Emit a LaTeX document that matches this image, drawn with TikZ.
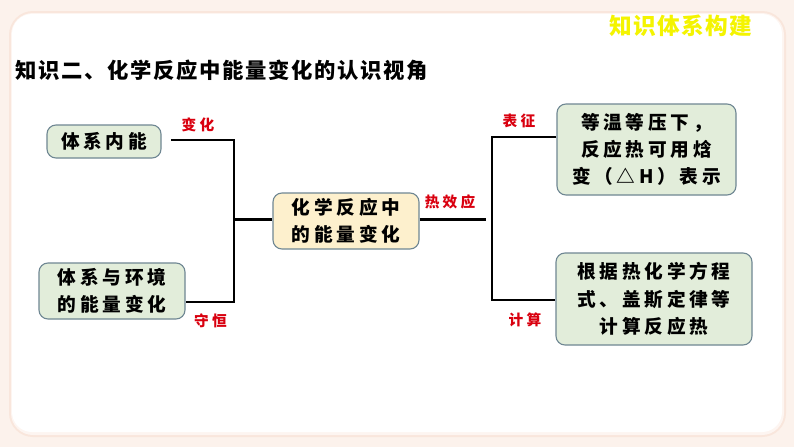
\documentclass[tikz,border=0pt]{standalone}
\usepackage{fontspec}
\newfontfamily\cjk{Noto Sans CJK SC}
\newfontfamily\cjktitle[LetterSpace=6]{Noto Sans CJK SC}
\newfontfamily\cjkbox[LetterSpace=20]{Noto Sans CJK SC}
\newfontfamily\cjklab[LetterSpace=22]{Noto Sans CJK SC}
\newfontfamily\cjkhead[LetterSpace=8]{Noto Sans CJK SC}
\newlength\pxu \setlength\pxu{0.75pt}
\definecolor{pagebg}{HTML}{FCF2EC}
\definecolor{shadowc}{HTML}{F9E6DC}
\definecolor{greenf}{HTML}{E2EDDA}
\definecolor{yellowf}{HTML}{FDF0CD}
\definecolor{bordc}{HTML}{6F8793}
\definecolor{labred}{HTML}{D9000F}
\definecolor{titley}{HTML}{F4F400}
\begin{document}
\begin{tikzpicture}[x=0.75pt,y=-0.75pt,
  boxbase/.style={draw=bordc, line width=1.1\pxu, rounded corners=9\pxu, inner sep=0pt, align=center,
    font=\cjkbox\fontsize{14pt}{20.5pt}\selectfont\bfseries},
  greenbox/.style={boxbase, fill=greenf},
  yellowbox/.style={boxbase, fill=yellowf},
  lab/.style={text=labred, inner sep=0pt, font=\cjklab\fontsize{11pt}{13pt}\selectfont\bfseries},
  conn/.style={line width=2.2\pxu, black}]
\useasboundingbox (0,0) rectangle (794,447);
% background
\fill[pagebg] (0,0) rectangle (794,447);
\fill[shadowc, rounded corners=24\pxu] (9,11) rectangle (786,437);
\fill[white!60!shadowc, rounded corners=22\pxu] (11,13) rectangle (784,435);
\fill[white, rounded corners=20\pxu] (12,14) rectangle (782,432);
% title and heading
\node[text=titley, inner sep=0pt, font=\cjktitle\fontsize{17pt}{19pt}\selectfont\bfseries] (title) at (681,26) {知识体系构建};
\node[anchor=west, inner sep=0pt, font=\cjkhead\fontsize{16pt}{18pt}\selectfont\bfseries] (head) at (15,70) {知识二、化学反应中能量变化的认识视角};
% boxes
\node[greenbox, minimum width=114\pxu, minimum height=33\pxu] (b1) at (104,141.5) {体系内能};
\node[greenbox, minimum width=146\pxu, minimum height=56\pxu] (b2) at (112,291) {体系与环境\\的能量变化};
\node[yellowbox, minimum width=146\pxu, minimum height=56\pxu] (c) at (346,221) {化学反应中\\的能量变化};
\node[greenbox, minimum width=179\pxu, minimum height=91\pxu] (tr) at (646.5,149.5) {等温等压下，\\反应热可用焓\\变（△H）表示};
\node[greenbox, minimum width=196\pxu, minimum height=92\pxu] (br) at (654,299) {根据热化学方程\\式、盖斯定律等\\计算反应热};
% junction coordinates
\coordinate (jA) at (234,140);
\coordinate (jC) at (234,302);
\coordinate (jL) at (234,219.5);
\coordinate (jT) at (492,137);
\coordinate (jB) at (492,300);
\coordinate (jR) at (486,219.5);
\coordinate (s1) at (171,140);
% connectors
\draw[conn] (s1) -- (jA) -- (jC) -- (b2.east |- jC);
\draw[conn] (jL) -- (c.west |- jL);
\draw[conn] (c.east |- jR) -- (jR);
\draw[conn] (tr.west |- jT) -- (jT) -- (jB) -- (br.west |- jB);
% labels
\node[lab] (l1) at (198,125) {变化};
\node[lab] (l2) at (210.5,321) {守恒};
\node[lab] (l3) at (450,202) {热效应};
\node[lab] (l4) at (519,121) {表征};
\node[lab] (l5) at (525,320) {计算};
\end{tikzpicture}
\end{document}
